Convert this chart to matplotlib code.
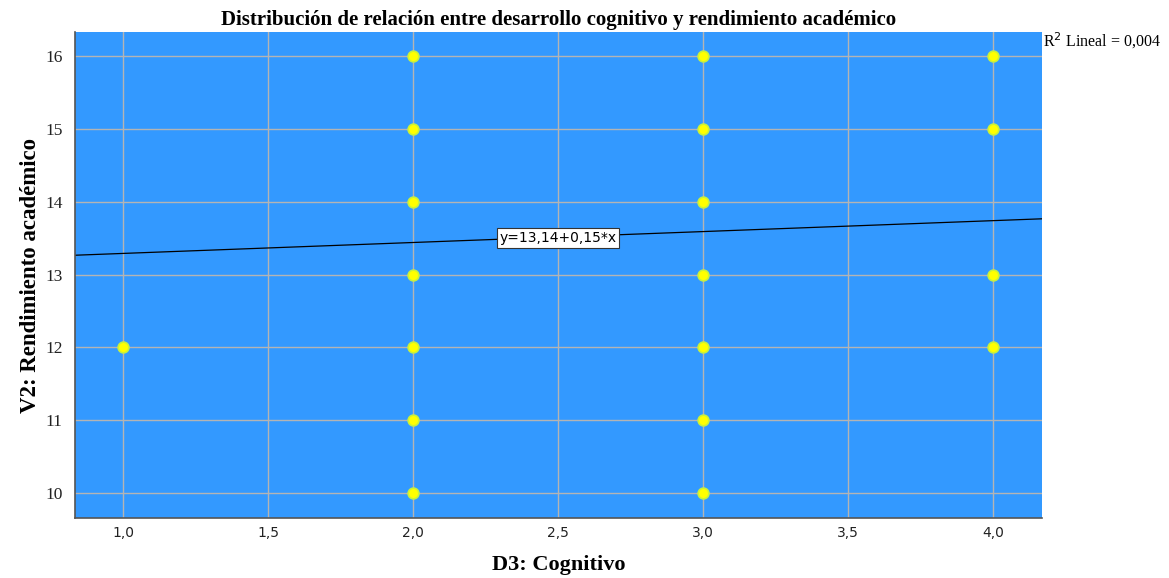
import matplotlib.pyplot as plt
import numpy as np

# scatter data: D3 (cognitivo) vs V2 (rendimiento academico)
cognitivo = [1, 2, 2, 2, 2, 2, 2, 2, 3, 3, 3, 3, 3, 3, 3, 4, 4, 4, 4]
rendimiento = [12, 10, 11, 12, 13, 14, 15, 16, 10, 11, 12, 13, 14, 15, 16, 12, 13, 15, 16]

# linear fit reported in the chart
intercept = 13.14
slope = 0.15
r2_text = "R$^2$ Lineal = 0,004"
eq_text = "y=13,14+0,15*x"

x_ticks = [1.0, 1.5, 2.0, 2.5, 3.0, 3.5, 4.0]
x_tick_labels = ["1,0", "1,5", "2,0", "2,5", "3,0", "3,5", "4,0"]
y_ticks = [10, 11, 12, 13, 14, 15, 16]

serif = ["Liberation Serif", "DejaVu Serif"]

fig = plt.figure(figsize=(11.69, 5.78), dpi=100)
ax = fig.add_axes([0.0642, 0.1038, 0.8272, 0.8408])

ax.set_facecolor("#3399ff")
ax.set_xlim(0.834, 4.169)
ax.set_ylim(9.657, 16.33)

ax.grid(True, color="#b4b4b4", linewidth=1.0)
ax.set_axisbelow(True)

ax.scatter(cognitivo, rendimiento, s=60, color="#ffff00", edgecolors="#c8f03c",
           linewidths=1.2, zorder=3)

xs = np.array(ax.get_xlim())
ax.plot(xs, intercept + slope * xs, color="black", linewidth=0.9, zorder=2)

ax.text(2.5, 13.5, eq_text, ha="center", va="center", fontsize=10,
        family="DejaVu Sans", zorder=4,
        bbox=dict(boxstyle="square,pad=0.2", facecolor="white", edgecolor="#333333", linewidth=0.8))

ax.set_xticks(x_ticks)
ax.set_xticklabels(x_tick_labels)
ax.set_yticks(y_ticks)
ax.tick_params(length=0, labelsize=10, colors="#222222")
ax.tick_params(axis="x", pad=6)
ax.tick_params(axis="y", pad=9)
for lbl in ax.get_yticklabels():
    lbl.set_family(serif)
    lbl.set_fontsize(12.5)

for side in ("top", "right"):
    ax.spines[side].set_visible(False)
for side in ("left", "bottom"):
    ax.spines[side].set_color("#555555")
    ax.spines[side].set_linewidth(1.2)

ax.set_xlabel("D3: Cognitivo", family=serif, fontweight="bold", fontsize=16)
ax.set_ylabel("V2: Rendimiento académico", family=serif, fontweight="bold", fontsize=16.5)
ax.xaxis.label.set_va("center")
ax.yaxis.label.set_va("center")
ax.xaxis.set_label_coords(0.5, -0.0967)
ax.yaxis.set_label_coords(-0.0465, 0.5)
ax.set_title("Distribución de relación entre desarrollo cognitivo y rendimiento académico",
             family=serif, fontweight="bold", fontsize=15, pad=5)

fig.text(1043 / 1169, 1 - 41 / 578, r2_text, family=serif, fontsize=11.5, va="center", ha="left")

fig.savefig("out.png", dpi=100)
plt.close(fig)
